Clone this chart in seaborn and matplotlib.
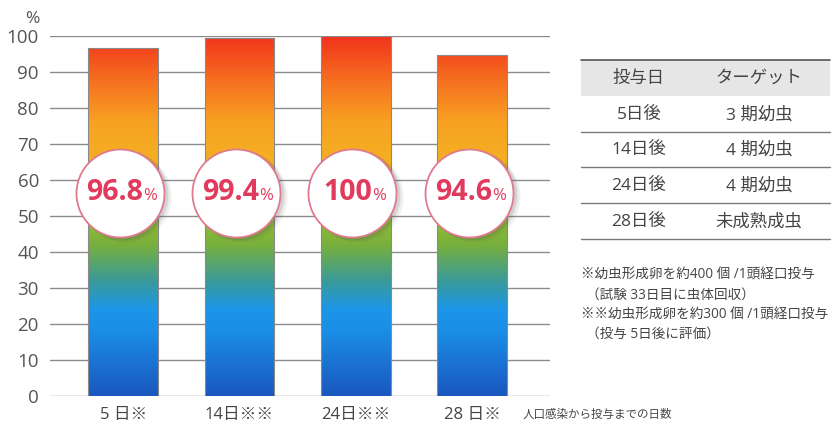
import numpy as np
import pandas as pd
import matplotlib
matplotlib.use("Agg")
import matplotlib.pyplot as plt
import seaborn as sns
from matplotlib.colors import LinearSegmentedColormap
from matplotlib.transforms import ScaledTranslation
from matplotlib.patches import Rectangle
from matplotlib.lines import Line2D

# ---- data ----
categories = ["5 日※", "14日※※", "24日※※", "28 日※"]
values = [96.8, 99.4, 100.0, 94.6]
value_labels = ["96.8", "99.4", "100", "94.6"]
y_ticks = [0, 10, 20, 30, 40, 50, 60, 70, 80, 90, 100]
x_axis_note = "人口感染から投与までの日数"
table_header = ["投与日", "ターゲット"]
table_days = ["5日後", "14日後", "24日後", "28日後"]
table_targets = ["3 期幼虫", "4 期幼虫", "4 期幼虫", "未成熟成虫"]
notes = ["※幼虫形成卵を約400 個 /1頭経口投与",
         "（試験 33日目に虫体回収）",
         "※※幼虫形成卵を約300 個 /1頭経口投与",
         "（投与 5日後に評価）"]

sns.set_theme(style="white")
plt.rcParams["font.family"] = ["Open Sans", "Noto Sans CJK JP", "DejaVu Sans"]

W, H = 832, 426
fig = plt.figure(figsize=(W / 100, H / 100), dpi=100)
ax = fig.add_axes([50 / W, (H - 396) / H, 500 / W, 360 / H])

df = pd.DataFrame({"cat": categories, "val": values})
sns.barplot(data=df, x="cat", y="val", ax=ax, width=0.6, color="white",
            edgecolor="#8a8a8a", linewidth=0.8, zorder=3)

# gradient fill for bars
cmap = LinearSegmentedColormap.from_list("grad", [
    (0.00, "#1b57bf"), (0.18, "#1a8ee6"), (0.24, "#1c96e8"), (0.32, "#3a9a98"),
    (0.42, "#79b03c"), (0.52, "#9cc232"), (0.62, "#f2b424"), (0.76, "#f8a222"),
    (0.88, "#f66e20"), (1.00, "#f2331d")])
grad = np.linspace(0, 1, 256).reshape(-1, 1)
for p in ax.patches:
    x0 = p.get_x()
    x1 = x0 + p.get_width()
    im = ax.imshow(grad, cmap=cmap, origin="lower", aspect="auto",
                   extent=(x0, x1, 0, 100), zorder=2, interpolation="bicubic")
    im.set_clip_path(p)
    p.set_facecolor("none")

ax.set_xlim(-0.63, 3.67)
ax.set_ylim(0, 100)
ax.set_yticks(y_ticks)
ax.yaxis.grid(True, color="#8c8c8c", linewidth=1.0, zorder=0)
ax.set_axisbelow(True)
for s in ax.spines.values():
    s.set_visible(False)
ax.tick_params(axis="y", length=0, pad=8, labelsize=13.5, labelcolor="#555555")
ax.tick_params(axis="x", length=0, pad=8, labelsize=12, labelcolor="#444444")
ax.set_xlabel("")
ax.set_ylabel("")
ax.set_clip_on(False)
ax.text(-0.02, 1.025, "%", transform=ax.transAxes, ha="right", va="bottom",
        fontsize=12.5, color="#555555")
ax.text(1.0 - 0.055, -0.05, x_axis_note, transform=ax.transAxes, ha="left",
        va="center", fontsize=8.3, color="#444444")

# circles with shadows
cx = np.arange(len(values)) - 0.03
cy = np.full(len(values), 56.5)
size = 88 * 0.72
for i, (dx, dy, a) in enumerate([(6, -4, 0.04), (5, -3, 0.06), (3, -2, 0.09), (2, -1, 0.1)]):
    sc = ax.scatter(cx, cy, s=(size + 2) ** 2, color="#555555", alpha=a,
                    linewidths=0, zorder=4, clip_on=False)
    sc.set_offset_transform(ax.transData + ScaledTranslation(dx / 100, dy / 100, fig.dpi_scale_trans))
sns.scatterplot(x=cx, y=cy, s=size ** 2, color="white", edgecolor="#e07a8e",
                linewidth=1.3, ax=ax, zorder=5, clip_on=False, legend=False)

red = "#e03a5c"
for x, lab in zip(cx, value_labels):
    t = ax.text(x, 56.5, lab, ha="center", va="center", fontsize=20.5,
                fontweight="bold", color=red, zorder=6)
    t.set_transform(ax.transData + ScaledTranslation(-5 / 100, 0, fig.dpi_scale_trans))
    ax.annotate("%", xy=(1.0, 0.12), xycoords=t, xytext=(0, 0), textcoords="offset points",
                ha="left", va="bottom", fontsize=12, color=red, zorder=6)

# table & notes in a pixel-coordinate overlay
ov = fig.add_axes([0, 0, 1, 1])
ov.set_xlim(0, W)
ov.set_ylim(H, 0)
ov.axis("off")
ov.patch.set_alpha(0)
tx0, tx1 = 581, 830
ov.add_patch(Rectangle((tx0, 60), tx1 - tx0, 36, facecolor="#e6e6e6", edgecolor="none"))
ov.add_line(Line2D([tx0, tx1], [60, 60], color="#555555", lw=1.2))
for yl in [132, 167, 203, 239]:
    ov.add_line(Line2D([tx0, tx1], [yl, yl], color="#7a7a7a", lw=1.0))
c1, c2 = 639, 759
tc = "#444444"
ov.text(c1, 79, table_header[0], ha="center", va="center", fontsize=12.5, color=tc)
ov.text(c2, 79, table_header[1], ha="center", va="center", fontsize=12.5, color=tc)
for yc, d, tg in zip([115, 150, 186, 222], table_days, table_targets):
    ov.text(c1, yc, d, ha="center", va="center", fontsize=12.5, color=tc)
    ov.text(c2, yc, tg, ha="center", va="center", fontsize=12.5, color=tc)
for (xn, yn), n in zip([(581, 275), (586, 295), (581, 315), (586, 334)], notes):
    ov.text(xn, yn, n, ha="left", va="center", fontsize=9.8, color=tc)

fig.savefig("out.png", dpi=100)
